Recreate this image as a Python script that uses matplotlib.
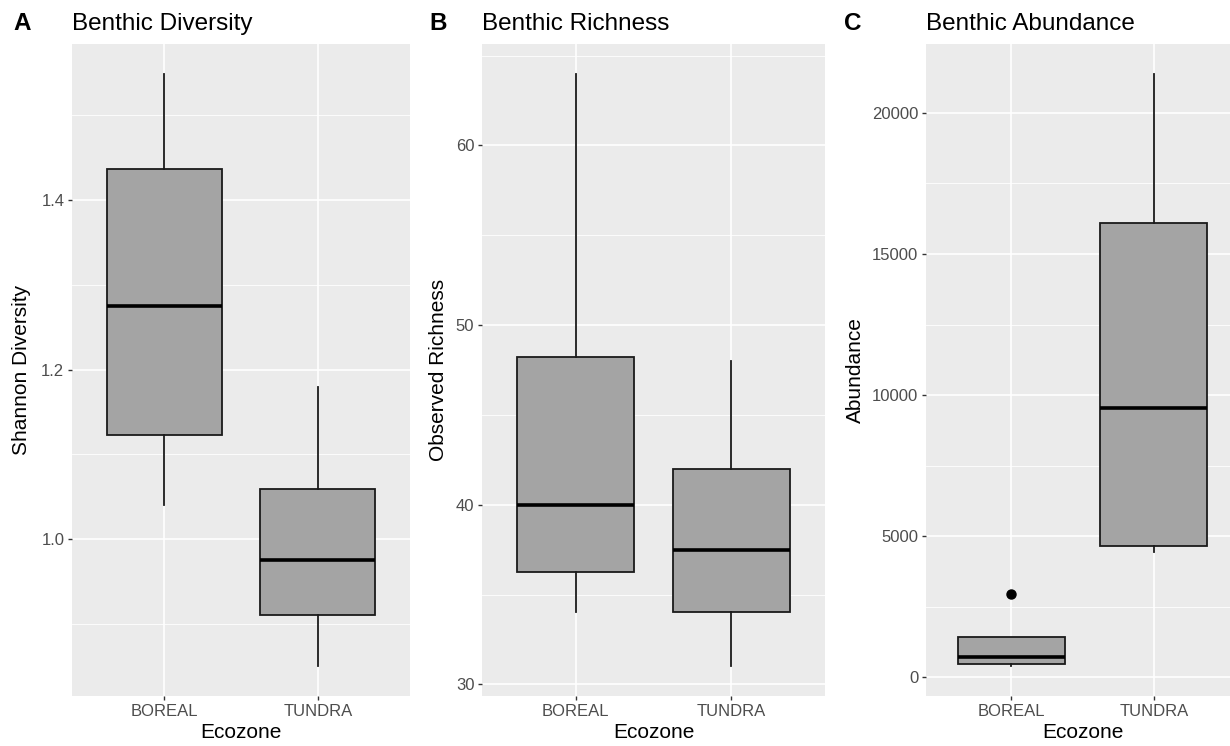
import matplotlib
matplotlib.use("Agg")
import matplotlib.pyplot as plt

plt.rcParams['font.family'] = ['Liberation Sans', 'DejaVu Sans']

# Ecozone categories
ecozones = ["BOREAL", "TUNDRA"]

# Box summaries per panel: lower whisker, Q1, median, Q3, upper whisker
diversity_whislo = [1.040, 0.850]
diversity_q1 = [1.123, 0.910]
diversity_med = [1.275, 0.975]
diversity_q3 = [1.437, 1.059]
diversity_whishi = [1.549, 1.180]
diversity_out = [[], []]

richness_whislo = [34.0, 31.0]
richness_q1 = [36.25, 34.0]
richness_med = [40.0, 37.5]
richness_q3 = [48.25, 42.0]
richness_whishi = [64.0, 48.0]
richness_out = [[], []]

abundance_whislo = [390, 4450]
abundance_q1 = [463, 4660]
abundance_med = [712, 9540]
abundance_q3 = [1424, 16100]
abundance_whishi = [1424, 21390]
abundance_out = [[2950], []]

W, H = 1230, 746
fig = plt.figure(figsize=(W / 100, H / 100), dpi=100)
fig.patch.set_facecolor("white")

panel_top, panel_bottom = 44, 696

panels = [
    dict(tag="A", title="Benthic Diversity", ylabel="Shannon Diversity",
         left=72, right=410, xlim=(0.4, 2.6),
         stats=(diversity_whislo, diversity_q1, diversity_med, diversity_q3, diversity_whishi, diversity_out),
         major=[1.0, 1.2, 1.4], minor=[0.9, 1.1, 1.3, 1.5], labels=["1.0", "1.2", "1.4"],
         tagx=13, ylabx=22),
    dict(tag="B", title="Benthic Richness", ylabel="Observed Richness",
         left=482, right=825, xlim=(0.4, 2.6),
         stats=(richness_whislo, richness_q1, richness_med, richness_q3, richness_whishi, richness_out),
         major=[30, 40, 50, 60], minor=[35, 45, 55, 65], labels=["30", "40", "50", "60"],
         tagx=429, ylabx=438),
    dict(tag="C", title="Benthic Abundance", ylabel="Abundance",
         left=926, right=1230, xlim=(0.4, 2.535),
         stats=(abundance_whislo, abundance_q1, abundance_med, abundance_q3, abundance_whishi, abundance_out),
         major=[0, 5000, 10000, 15000, 20000], minor=[2500, 7500, 12500, 17500, 22500],
         labels=["0", "5000", "10000", "15000", "20000"],
         tagx=844, ylabx=855),
]

for p in panels:
    ax = fig.add_axes([p["left"] / W, 1 - panel_bottom / H,
                       (p["right"] - p["left"]) / W, (panel_bottom - panel_top) / H])
    ax.set_facecolor("#EBEBEB")
    for s in ax.spines.values():
        s.set_visible(False)

    lo, q1, med, q3, hi, out = p["stats"]
    stats = [dict(whislo=lo[i], q1=q1[i], med=med[i], q3=q3[i], whishi=hi[i],
                  fliers=out[i], label=ecozones[i]) for i in range(len(ecozones))]

    # y range padded by 5% of the data span, as in ggplot
    vals = lo + hi + [v for o in out for v in o]
    vmin, vmax = min(vals), max(vals)
    span = vmax - vmin
    ax.set_ylim(vmin - 0.05 * span, vmax + 0.05 * span)
    ax.set_xlim(*p["xlim"])

    # grid
    for y in p["minor"]:
        ax.axhline(y, color="white", lw=0.6, zorder=0.5)
    for y in p["major"]:
        ax.axhline(y, color="white", lw=1.2, zorder=0.6)
    for x in [1, 2]:
        ax.axvline(x, color="white", lw=1.2, zorder=0.6)

    ax.bxp(stats, positions=[1, 2], widths=0.75, patch_artist=True,
           showcaps=False, manage_ticks=False,
           boxprops=dict(facecolor="#A4A4A4", edgecolor="#1A1A1A", linewidth=1.3),
           whiskerprops=dict(color="#1A1A1A", linewidth=1.3),
           medianprops=dict(color="black", linewidth=2.6, solid_capstyle="butt"),
           flierprops=dict(marker="o", markerfacecolor="black", markeredgecolor="black",
                           markersize=6.5, linestyle="none"),
           zorder=2)

    ax.set_xticks([1, 2])
    ax.set_xticklabels(ecozones)
    ax.set_yticks(p["major"])
    ax.set_yticklabels(p["labels"])
    ax.tick_params(axis="both", length=3, width=1.0, color="#333333",
                   labelcolor="#4D4D4D", labelsize=12, pad=2.5)

    cx = (p["left"] + p["right"]) / 2
    if p["tag"] == "C":
        cx = 1083
    fig.text(cx / W, 1 - 733 / H, "Ecozone", ha="center", va="center", fontsize=15, color="black")
    fig.text(p["ylabx"] / W, 1 - 370 / H, p["ylabel"], rotation=90, ha="center", va="center",
             fontsize=15, color="black")
    fig.text(p["left"] / W, 1 - 30 / H, p["title"], ha="left", va="baseline",
             fontsize=17.5, color="black")
    fig.text(p["tagx"] / W, 1 - 30 / H, p["tag"], ha="left", va="baseline",
             fontsize=17.5, fontweight="bold", color="black")

fig.savefig("out.png", dpi=100, facecolor="white")
